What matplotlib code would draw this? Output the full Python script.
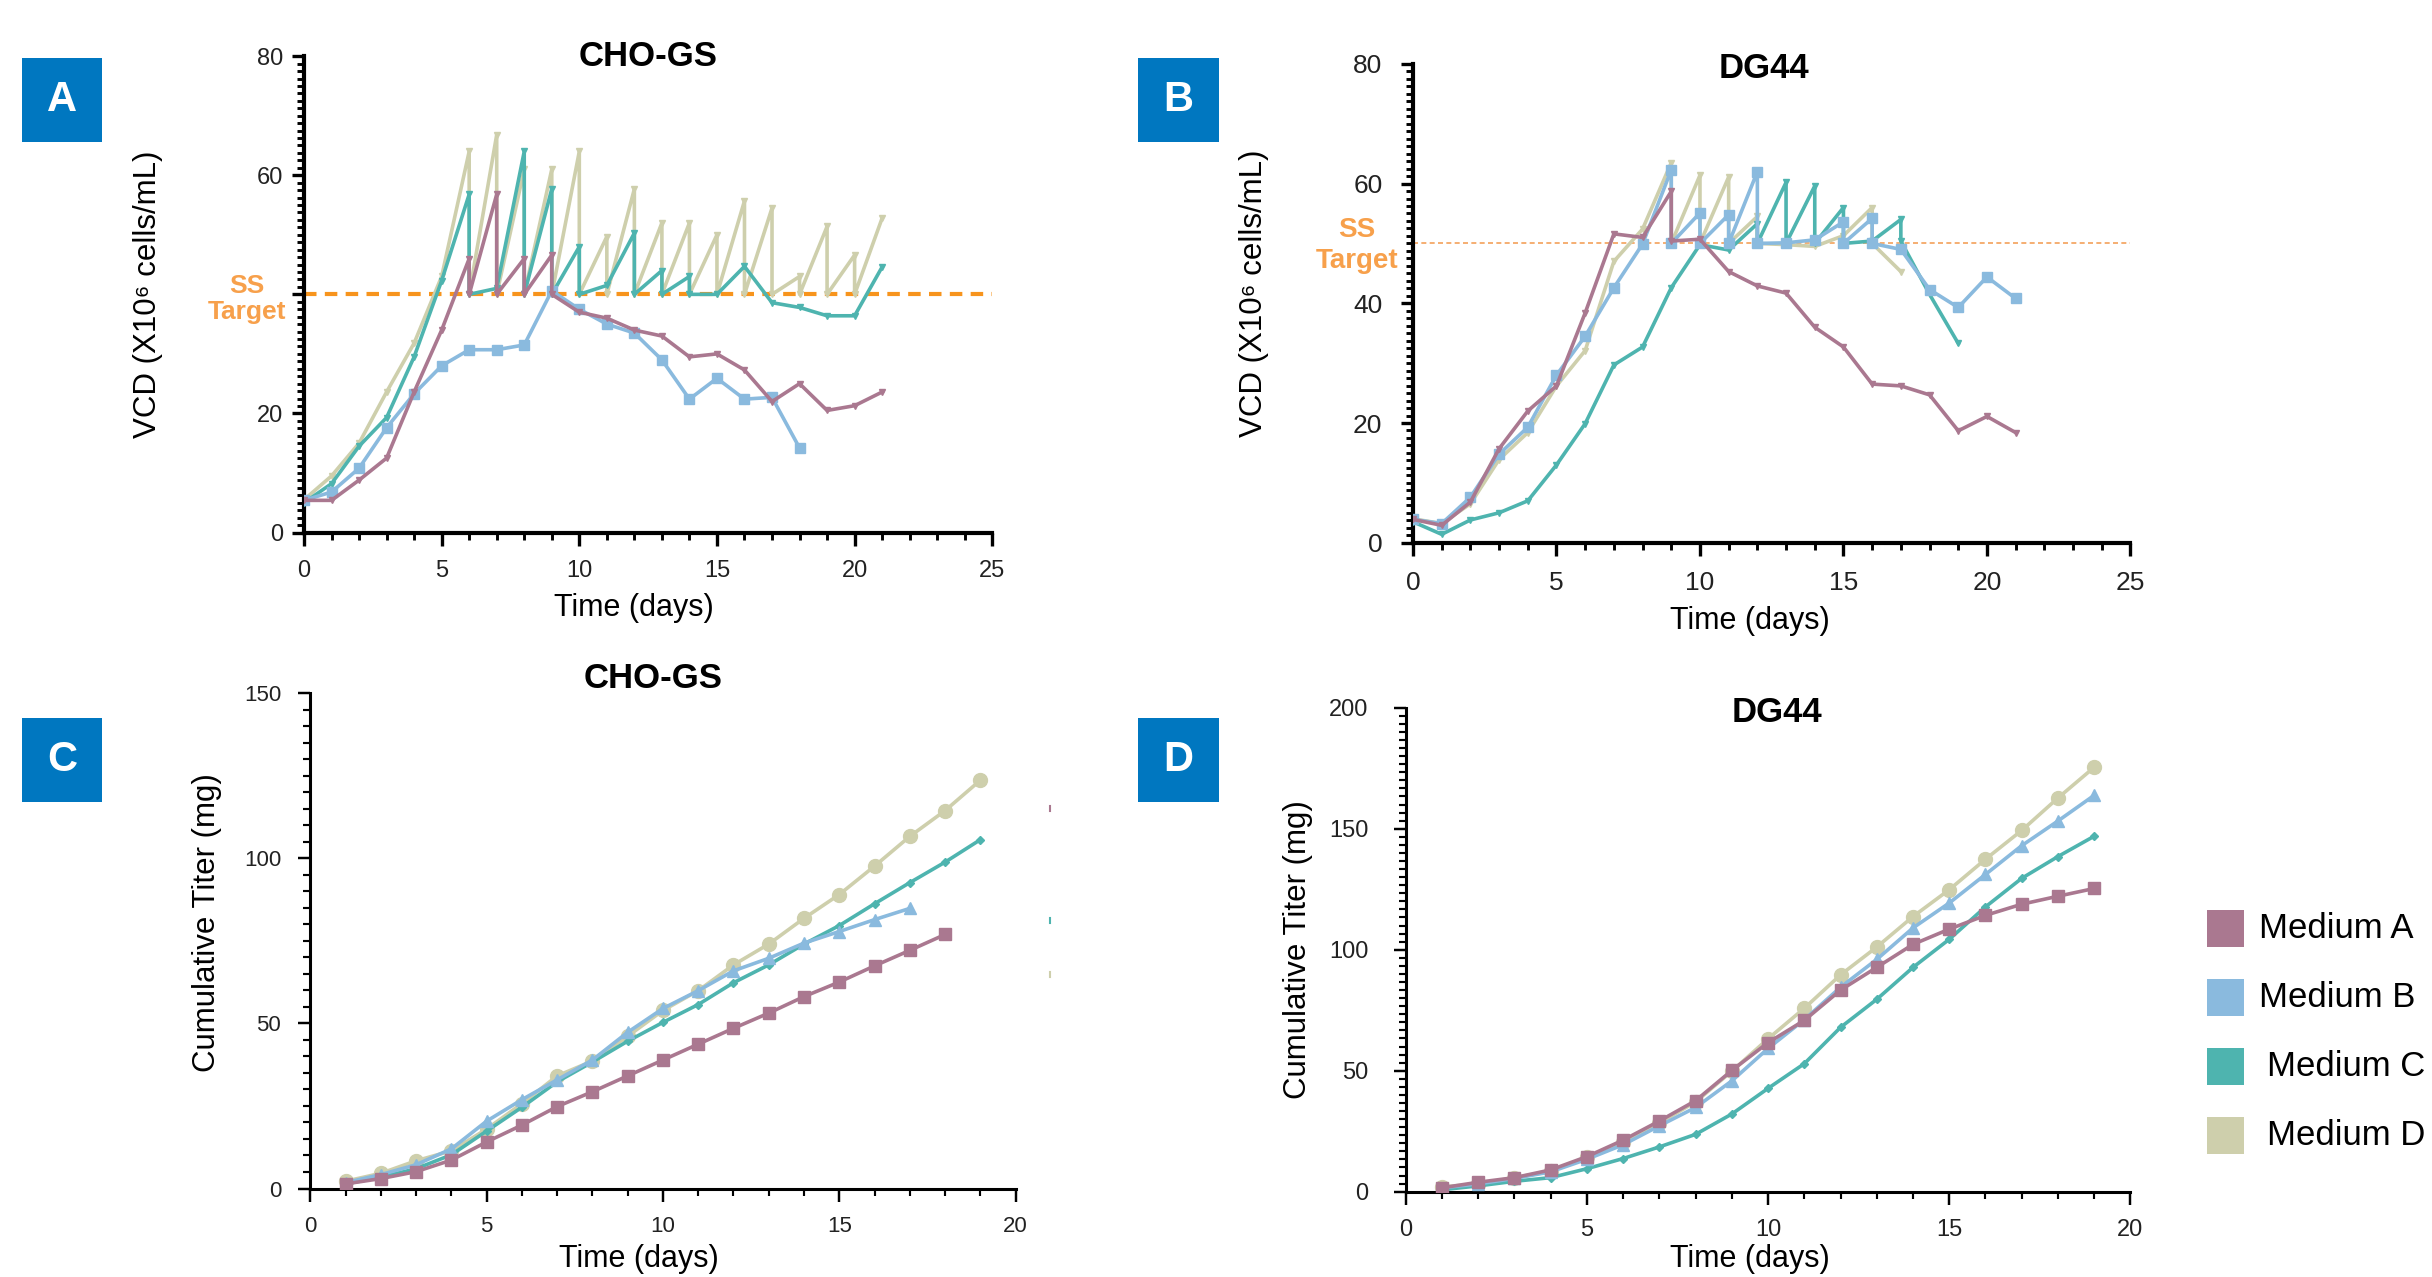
import matplotlib
matplotlib.use("Agg")
import matplotlib.pyplot as plt
from matplotlib.ticker import MultipleLocator
from matplotlib.patches import Rectangle
from matplotlib.lines import Line2D

plt.rcParams['font.family'] = ['Liberation Sans', 'DejaVu Sans']

media = ["Medium A", "Medium B", "Medium C", "Medium D"]
colors = ["#AA7890", "#8ABADE", "#4EB4AF", "#CECFAC"]

# ---- A: CHO-GS VCD (repeated day = value after bleed)
a_days_A = [0, 1, 2, 3, 4, 5, 6, 6, 7, 7, 8, 8, 9, 9, 10, 11, 12, 13, 14, 15, 16, 17, 18, 19, 20, 21]
a_vcd_A = [5.4, 5.4, 8.8, 12.5, 23.6, 34, 46, 40, 56.8, 40, 46, 40, 46.6, 40, 37, 36, 34, 33, 29.5, 30,
           27.3, 22, 25, 20.5, 21.3, 23.6]
a_days_B = [0, 1, 2, 3, 4, 5, 6, 7, 8, 9, 10, 11, 12, 13, 14, 15, 16, 17, 18]
a_vcd_B = [5.4, 6.8, 10.8, 17.6, 23.3, 28, 30.7, 30.7, 31.5, 40.6, 37.5, 35, 33.5, 29, 22.4, 25.9, 22.4,
           22.7, 14.2]
a_days_C = [0, 1, 2, 3, 4, 5, 6, 6, 7, 8, 8, 9, 9, 10, 10, 11, 12, 12, 13, 13, 14, 14, 15, 16, 17, 18,
            19, 20, 21]
a_vcd_C = [5.0, 8.2, 14.5, 19.3, 29.5, 42.3, 56.8, 40, 41, 64, 40, 57.7, 40, 48, 40, 41.5, 50.3, 40, 44,
           40, 43, 40, 40, 44.7, 38.6, 37.8, 36.4, 36.4, 44.6]
a_days_D = [0, 1, 2, 3, 4, 5, 6, 6, 7, 7, 8, 8, 9, 9, 10, 10, 11, 11, 12, 12, 13, 13, 14, 14, 15, 15,
            16, 16, 17, 17, 18, 18, 19, 19, 20, 20, 21]
a_vcd_D = [5.5, 9.5, 15, 23.6, 31.8, 43, 64, 40, 66.8, 40, 61, 40, 61, 40, 64, 40, 49.7, 40, 57.7, 40,
           52, 40, 52, 40, 50, 40, 55.7, 40, 54.5, 40, 43, 40, 51.4, 40, 46.6, 40, 52.8]

# ---- B: DG44 VCD
b_days_A = [0, 1, 2, 3, 4, 5, 6, 7, 8, 9, 9, 10, 11, 12, 13, 14, 15, 16, 17, 18, 19, 20, 21]
b_vcd_A = [3.9, 2.9, 6.8, 15.7, 22, 26.2, 38.4, 51.6, 51, 58.7, 50.4, 50.7, 45.3, 42.9, 41.7, 36, 32.7,
           26.5, 26.2, 24.7, 18.7, 21.1, 18.4]
b_days_B = [0, 1, 2, 3, 4, 5, 6, 7, 8, 9, 9, 10, 10, 11, 11, 12, 12, 13, 14, 15, 15, 16, 16, 17, 18,
            19, 20, 21]
b_vcd_B = [3.9, 3.2, 7.6, 14.8, 19.3, 28, 34.5, 42.6, 49.9, 62.3, 50, 55.1, 50, 54.8, 50, 62, 50, 50.1,
           50.6, 53.6, 50, 54.2, 50, 49, 42.3, 39.3, 44.4, 40.8]
b_days_C = [0, 1, 2, 3, 4, 5, 6, 7, 8, 9, 10, 11, 12, 12, 13, 13, 14, 14, 15, 15, 16, 17, 17, 18, 19]
b_vcd_C = [3.5, 1.4, 3.8, 5, 7, 13, 19.9, 29.7, 32.7, 42.6, 49.8, 48.9, 53.3, 50, 60.2, 50, 59.6, 50,
           56, 50, 50.4, 54, 50.4, 41.5, 33.3]
b_days_D = [0, 1, 2, 3, 4, 5, 6, 7, 8, 9, 9, 10, 10, 11, 11, 12, 12, 13, 14, 15, 16, 16, 17]
b_vcd_D = [4, 3.2, 6.5, 13.9, 18.4, 26.2, 32.1, 47, 52.4, 63.5, 50, 61.4, 50, 61.1, 50, 54.5, 50, 49.8,
           49.5, 51.3, 56, 50, 45.3]

# ---- C: CHO-GS cumulative titer
c_titer_A = [1.4, 3, 5.1, 8.6, 14.1, 19.2, 24.8, 29.3, 34.1, 38.9, 43.7, 48.5, 53.1, 58.1, 62.5, 67.4,
             72.1, 76.9]
c_titer_B = [1.8, 4.2, 7.2, 12, 20.4, 26.9, 32.9, 38.9, 47.3, 54.5, 59.9, 65.9, 69.7, 74.3, 77.8, 81.4,
             84.8]
c_titer_C = [1.4, 3.4, 6, 10.2, 17.4, 24.6, 32.3, 38.3, 44.6, 50.3, 55.7, 62.3, 67.7, 74, 79.6, 86.2,
             92.6, 98.8, 105.6]
c_titer_D = [2.2, 4.6, 8.4, 11.4, 18, 25.7, 34.1, 38.6, 46.1, 53.9, 59.9, 67.7, 74, 81.8, 89, 97.6,
             106.6, 114.4, 123.6]

# ---- D: DG44 cumulative titer
d_titer_A = [1.6, 3.9, 5.8, 9, 14.5, 21.3, 29.2, 37.6, 50.1, 61.6, 70.8, 83.3, 92.7, 102.2, 108.5,
             114.2, 118.8, 122.1, 125.3]
d_titer_B = [1.6, 3.2, 5.5, 8.2, 13.4, 19.4, 27.2, 34.8, 45.8, 59.2, 71.1, 84.5, 96, 109, 119.3, 131.1,
             143, 153.2, 163.8]
d_titer_C = [0.8, 2.4, 4.3, 5.8, 9.5, 13.7, 18.5, 23.7, 32.1, 42.7, 52.9, 67.9, 79.5, 92.7, 104.3,
             117.7, 129.5, 138.5, 146.9]
d_titer_D = [2, 3.2, 5.8, 8.4, 14.2, 20.5, 28.4, 37.1, 49.8, 63.2, 75.8, 89.6, 101.1, 113.7, 124.8,
             137.4, 149.3, 162.7, 175.4]

ss_target_A = 40
ss_target_B = 50

orange = "#F7A04B"
box_blue = "#0077C0"

fig = plt.figure(figsize=(24.32, 12.77), dpi=100)


def style_axes(ax, xmax, ymax, ymajor, yminor, spine_w, tick_fs, ypad, xpad):
    for s in ["top", "right"]:
        ax.spines[s].set_visible(False)
    for s in ["left", "bottom"]:
        ax.spines[s].set_linewidth(spine_w)
    ax.set_xlim(0, xmax)
    ax.set_ylim(0, ymax)
    ax.xaxis.set_major_locator(MultipleLocator(5))
    ax.xaxis.set_minor_locator(MultipleLocator(1))
    ax.yaxis.set_major_locator(MultipleLocator(ymajor))
    ax.yaxis.set_minor_locator(MultipleLocator(yminor))
    ax.tick_params(which="major", direction="out", length=9, width=spine_w * 0.8, labelsize=tick_fs,
                   colors="black", labelcolor="#222222")
    ax.tick_params(which="minor", direction="out", length=5, width=spine_w * 0.7)
    ax.tick_params(axis="y", which="major", pad=ypad)
    ax.tick_params(axis="x", which="major", pad=xpad)


def badge(x0, y0, letter):
    fig.patches.append(Rectangle((x0, y0), 0.0332, 0.0656, transform=fig.transFigure,
                                 facecolor=box_blue, edgecolor="none"))
    fig.text(x0 + 0.0166, y0 + 0.0328, letter, color="white", fontsize=30, fontweight="bold",
             ha="center", va="center")


# ---------------- Panel A
axA = fig.add_axes([0.125, 0.583, 0.283, 0.373])
axA.plot(a_days_D, a_vcd_D, color=colors[3], lw=2.6, marker="v", ms=5, zorder=2)
axA.plot(a_days_C, a_vcd_C, color=colors[2], lw=2.6, marker="v", ms=5, zorder=3)
axA.plot(a_days_B, a_vcd_B, color=colors[1], lw=2.6, marker="s", ms=7, zorder=3)
axA.plot(a_days_A, a_vcd_A, color=colors[0], lw=2.6, marker="v", ms=5, zorder=4)
axA.axhline(ss_target_A, color="#F7941D", lw=3, ls=(0, (3, 2)), zorder=1)
style_axes(axA, 25, 80, 20, 1.25, 3.0, 17, 6, 11)
axA.set_yticks([0, 20, 40, 60, 80])
axA.set_yticklabels(["0", "20", "", "60", "80"])
axA.text(0.5, 1.0, "CHO-GS", transform=axA.transAxes, ha="center", va="center", fontsize=25,
         fontweight="bold")
axA.set_ylabel("VCD (X10⁶ cells/mL)", fontsize=22.5)
axA.yaxis.set_label_coords(-0.205, 0.50)
axA.set_xlabel("Time (days)", fontsize=22)
axA.xaxis.set_label_coords(0.48, -0.128)
axA.text(-0.083, 0.49, "SS\nTarget", transform=axA.transAxes, ha="center", va="center", fontsize=19,
         fontweight="bold", color=orange, linespacing=1.1)

# ---------------- Panel B
axB = fig.add_axes([0.581, 0.575, 0.295, 0.375])
axB.plot(b_days_D, b_vcd_D, color=colors[3], lw=2.6, marker="v", ms=5, zorder=2)
axB.plot(b_days_C, b_vcd_C, color=colors[2], lw=2.6, marker="v", ms=5, zorder=3)
axB.plot(b_days_B, b_vcd_B, color=colors[1], lw=2.6, marker="s", ms=7, zorder=3)
axB.plot(b_days_A, b_vcd_A, color=colors[0], lw=2.6, marker="v", ms=5, zorder=4)
axB.axhline(ss_target_B, color="#F4A15A", lw=1.2, ls=(0, (3, 2)), zorder=1)
style_axes(axB, 25, 80, 20, 1.25, 3.0, 19, 13, 11)
for lab in axB.get_xticklabels() + axB.get_yticklabels():
    lab.set_family(["Liberation Sans Narrow", "Liberation Sans"])
axB.text(0.489, 0.99, "DG44", transform=axB.transAxes, ha="center", va="center", fontsize=25,
         fontweight="bold")
axB.set_ylabel("VCD (X10⁶ cells/mL)", fontsize=22.5)
axB.yaxis.set_label_coords(-0.201, 0.52)
axB.set_xlabel("Time (days)", fontsize=22)
axB.xaxis.set_label_coords(0.47, -0.132)
axB.text(-0.078, 0.62, "SS\nTarget", transform=axB.transAxes, ha="center", va="center", fontsize=20,
         fontweight="bold", color=orange, linespacing=1.25)

# ---------------- Panel C
days_c = [list(range(1, len(v) + 1)) for v in (c_titer_A, c_titer_B, c_titer_C, c_titer_D)]
axC = fig.add_axes([0.1276, 0.0693, 0.290, 0.388])
axC.plot(days_c[3], c_titer_D, color=colors[3], lw=2.6, marker="o", ms=10, zorder=2)
axC.plot(days_c[2], c_titer_C, color=colors[2], lw=2.6, marker="D", ms=4, zorder=3)
axC.plot(days_c[1], c_titer_B, color=colors[1], lw=2.6, marker="^", ms=8, zorder=4)
axC.plot(days_c[0], c_titer_A, color=colors[0], lw=2.6, marker="s", ms=9, zorder=4)
style_axes(axC, 20, 150, 50, 5, 2.2, 16, 12, 11)
axC.text(0.486, 1.03, "CHO-GS", transform=axC.transAxes, ha="center", va="center", fontsize=25,
         fontweight="bold")
axC.set_ylabel("Cumulative Titer (mg)", fontsize=22.5)
axC.yaxis.set_label_coords(-0.125, 0.536)
axC.set_xlabel("Time (days)", fontsize=22)
axC.xaxis.set_label_coords(0.466, -0.113)

# ---------------- Panel D
days_d = [list(range(1, len(v) + 1)) for v in (d_titer_A, d_titer_B, d_titer_C, d_titer_D)]
axD = fig.add_axes([0.578, 0.0668, 0.298, 0.379])
axD.plot(days_d[3], d_titer_D, color=colors[3], lw=2.6, marker="o", ms=10, zorder=2)
axD.plot(days_d[2], d_titer_C, color=colors[2], lw=2.6, marker="D", ms=4, zorder=3)
axD.plot(days_d[1], d_titer_B, color=colors[1], lw=2.6, marker="^", ms=8, zorder=4)
axD.plot(days_d[0], d_titer_A, color=colors[0], lw=2.6, marker="s", ms=9, zorder=5)
style_axes(axD, 20, 200, 50, 50 / 15, 2.2, 17, 18, 11)
axD.text(0.512, 0.99, "DG44", transform=axD.transAxes, ha="center", va="center", fontsize=25,
         fontweight="bold")
axD.set_ylabel("Cumulative Titer (mg)", fontsize=22.5)
axD.yaxis.set_label_coords(-0.128, 0.5)
axD.set_xlabel("Time (days)", fontsize=22)
axD.xaxis.set_label_coords(0.475, -0.109)

# panel badges
badge(0.0089, 0.889, "A")
badge(0.468, 0.889, "B")
badge(0.0089, 0.372, "C")
badge(0.468, 0.372, "D")

# tiny stray legend marks right of panel C
for y, col in zip([0.367, 0.279, 0.237], [colors[0], colors[2], colors[3]]):
    fig.add_artist(Line2D([0.4317, 0.4317], [y - 0.002, y + 0.002], transform=fig.transFigure,
                          color=col, lw=1.5))

# legend
leg_y = [0.273, 0.219, 0.165, 0.111]
leg_tx = [0.929, 0.929, 0.932, 0.932]
for name, col, y, tx in zip(media, colors, leg_y, leg_tx):
    fig.patches.append(Rectangle((0.9075, y - 0.0145), 0.0153, 0.029, transform=fig.transFigure,
                                 facecolor=col, edgecolor="none"))
    fig.text(tx, y, name, fontsize=25, ha="left", va="center")

fig.savefig("out.png", dpi=100)
